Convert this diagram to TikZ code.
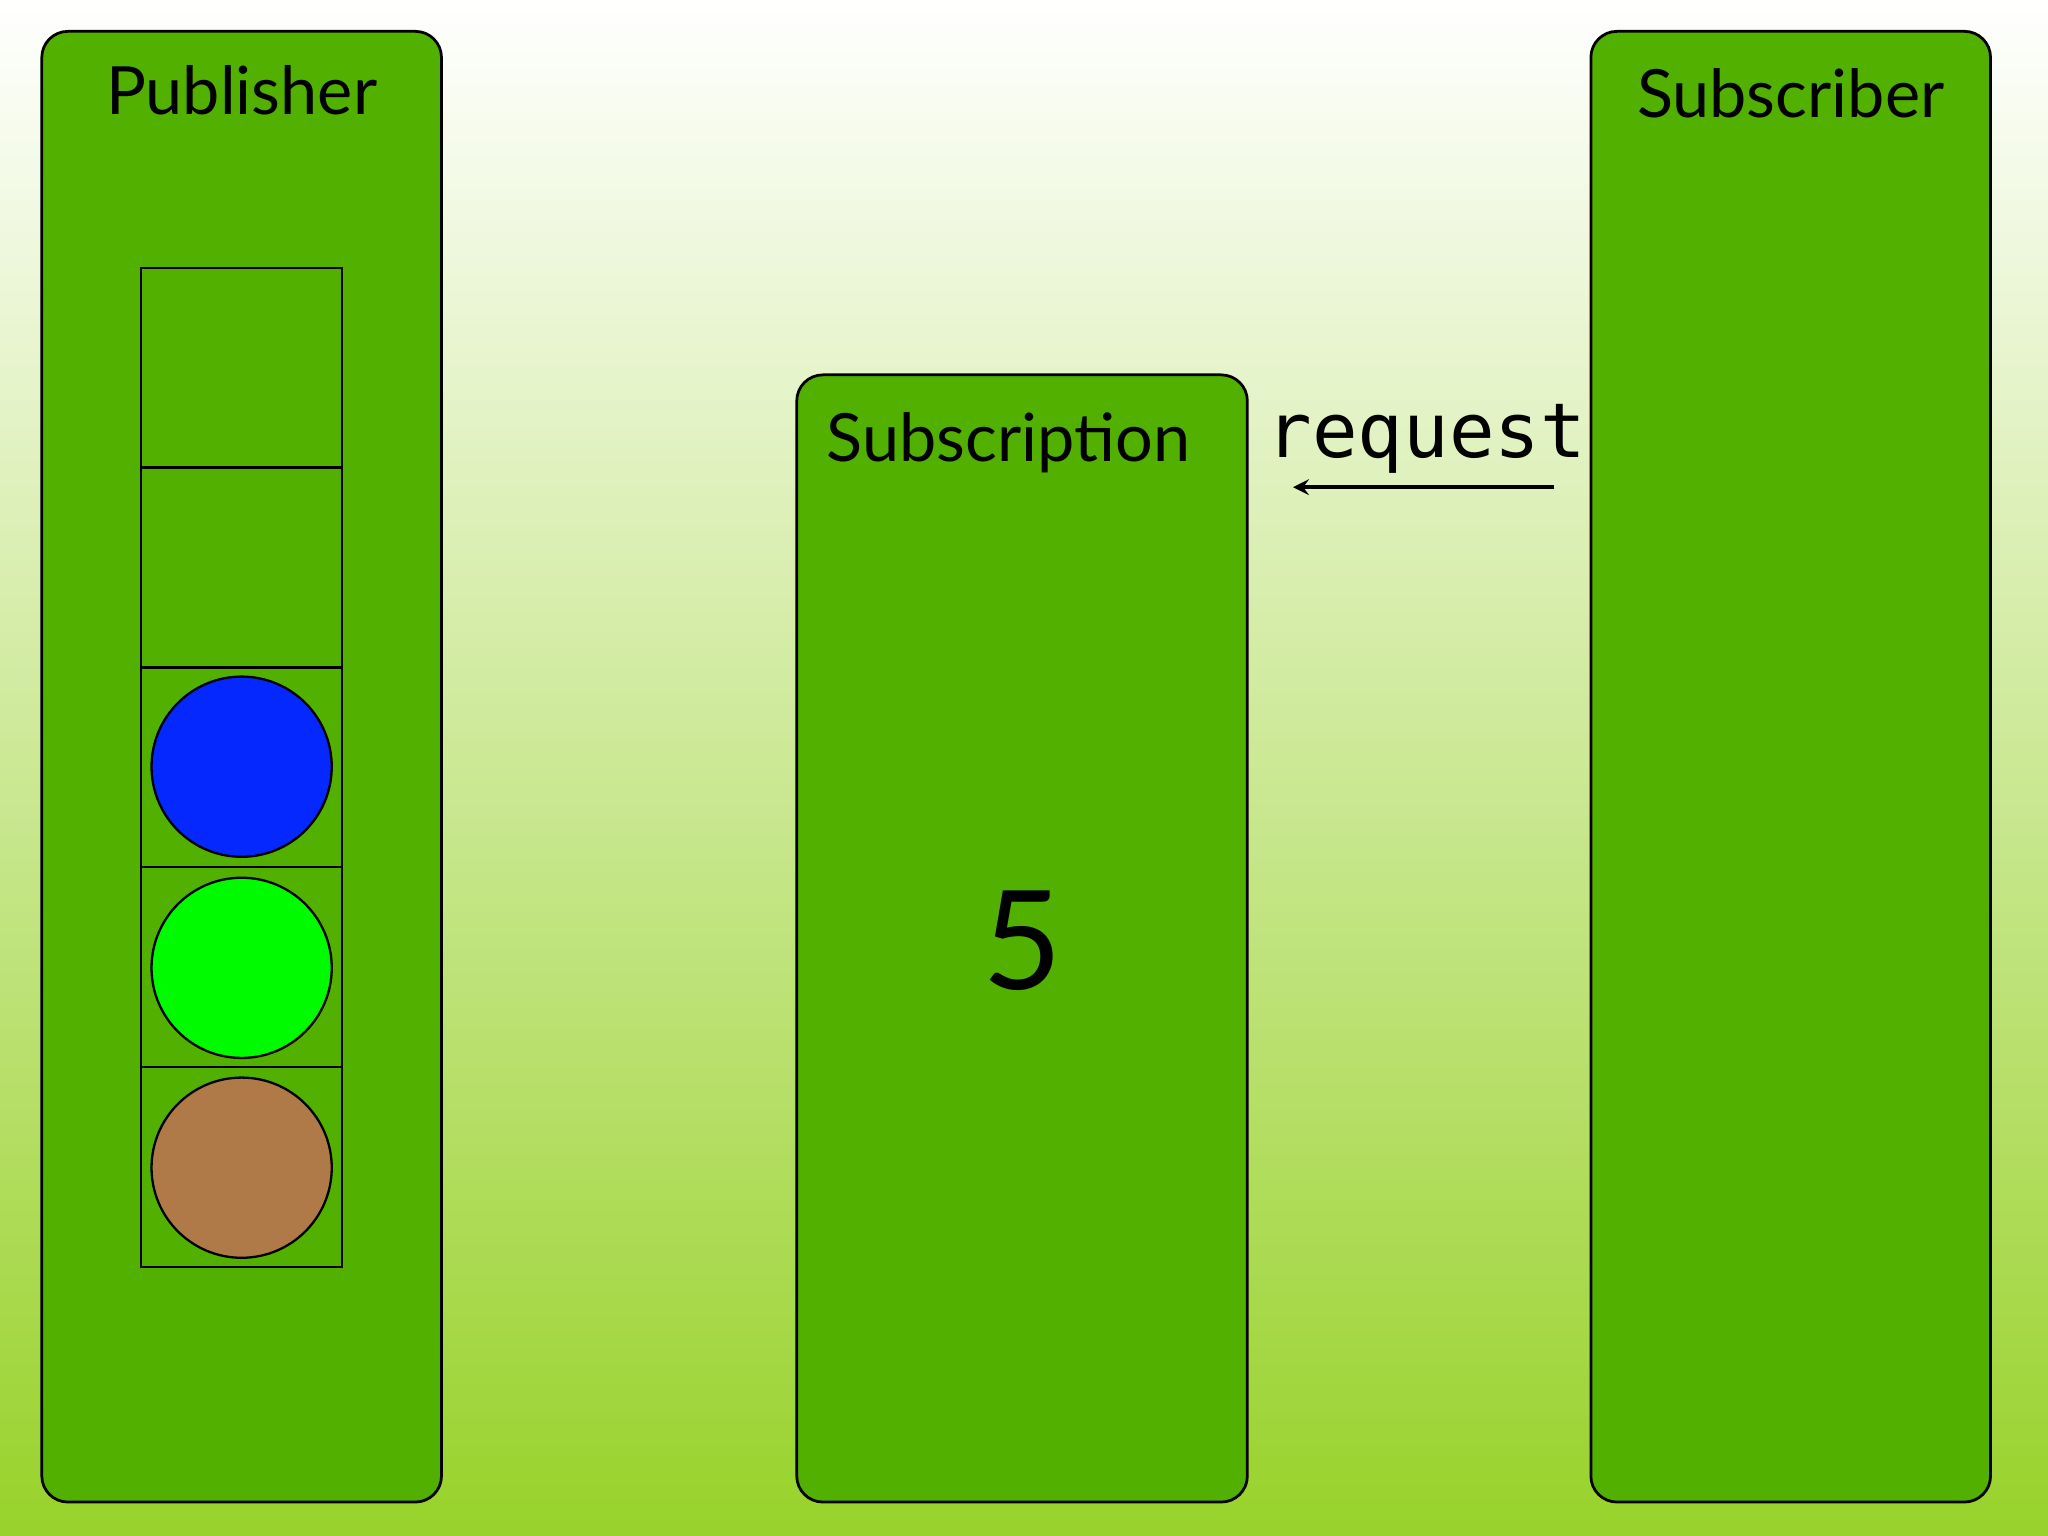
\documentclass[tikz,border=0pt]{standalone}
\usepackage{fontspec}
\setmainfont{Lato}
\setmonofont{DejaVu Sans Mono}
\begin{document}
\begin{tikzpicture}[x=0.02cm,y=-0.02cm,
  panel/.style={draw=black,line width=1.2pt,fill=panelgreen,rounded corners=0.4cm},
  cell/.style={draw=black,line width=1pt},
  ball/.style={draw=black,line width=1pt,circle,minimum size=2.76cm,inner sep=0pt},
  title/.style={font=\fontsize{29}{32}\selectfont,anchor=base}]
\definecolor{panelgreen}{RGB}{82,176,0}
\definecolor{bggreen}{RGB}{152,210,42}
\shade[top color=white,bottom color=bggreen] (0,0) rectangle (1568,1176);
\useasboundingbox (0,0) rectangle (1568,1176);
\draw[panel] (32,24) rectangle (338,1150);
\draw[panel] (610,287) rectangle (955,1150);
\draw[panel] (1218,24) rectangle (1524,1150);
\node[title] (pub) at (185,88) {Publisher};
\node[title] (sub) at (772,353) {Subscription};
\node[title] (sbr) at (1371,90) {Subscriber};
\foreach \y in {205,358,511,664,817} \draw[cell] (108,\y) rectangle (262,\y+153);
\node[ball,fill={rgb,255:red,5;green,40;blue,255}] (b1) at (185,587) {};
\node[ball,fill={rgb,255:red,0;green,250;blue,0}] (b2) at (185,741) {};
\node[ball,fill={rgb,255:red,175;green,122;blue,72}] (b3) at (185,894) {};
\node[font=\fontsize{60}{64}\selectfont] (n) at (783,720) {5};
\node[font=\ttfamily\fontsize{33}{36}\selectfont,anchor=base] (req) at (1092,350) {request};
\coordinate (rs) at (1190,373);
\coordinate (re) at (990,373);
\draw[line width=2pt,-stealth] (rs) -- (re);
\end{tikzpicture}
\end{document}
